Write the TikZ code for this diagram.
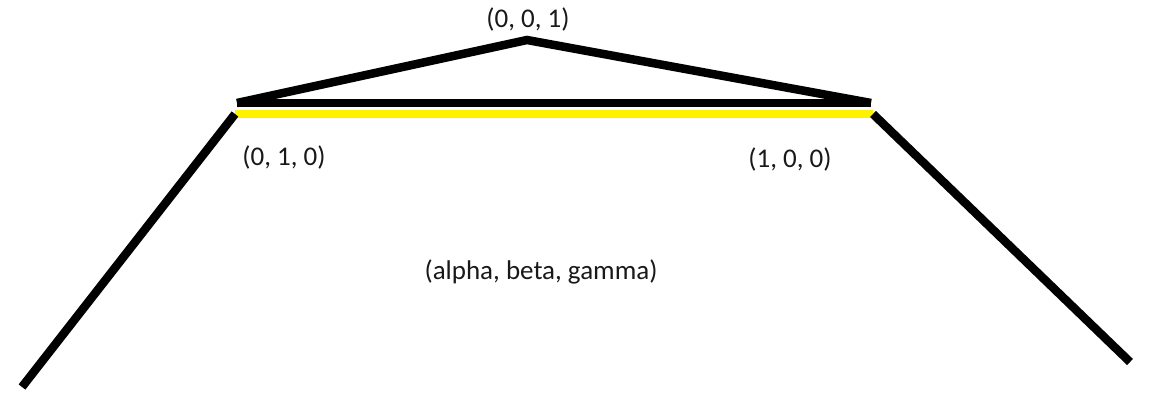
\documentclass[tikz,border=0pt]{standalone}
\usepackage{fontspec}
\setmainfont{Carlito}
\begin{document}
\begin{tikzpicture}[x=1pt,y=-1pt,
  edge/.style={line width=8.5pt,black},
  base/.style={line width=8.5pt,yellow},
  lbl/.style={font=\fontsize{27}{32}\selectfont,text=black!90,inner sep=0pt}]
\useasboundingbox[fill=white] (0,0) rectangle (1150,393);
\coordinate (bl) at (22,387);
\coordinate (l) at (235,114);
\coordinate (r) at (873,114);
\coordinate (br) at (1130,362);
\coordinate (lt) at (237,103);
\coordinate (rt) at (871,103);
\coordinate (top) at (527,40);
\draw[base] (l) -- (r);
\draw[edge] (lt) -- (rt);
\draw[edge,line join=miter] (lt) -- (top) -- (rt);
\draw[edge] (bl) -- (l);
\draw[edge] (r) -- (br);
\node[lbl] (n001) at (528,19) {(0, 0, 1)};
\node[lbl] (n010) at (284,157) {(0, 1, 0)};
\node[lbl] (n100) at (790,159) {(1, 0, 0)};
\node[lbl] (nabg) at (541,272) {(alpha, beta, gamma)};
\end{tikzpicture}
\end{document}
